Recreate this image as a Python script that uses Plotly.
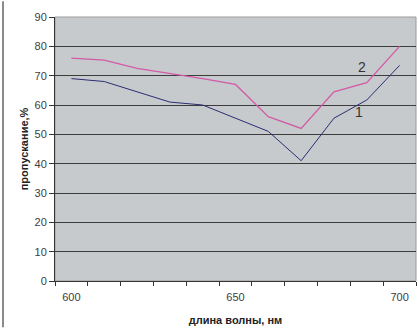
import plotly.graph_objects as go

wavelength = [600, 610, 620, 630, 640, 650, 660, 670, 680, 690, 700]
series_1 = [69, 68, 64.5, 61, 60, 55.5, 51, 41, 55.5, 61.7, 73.5]
series_2 = [76, 75.3, 72.5, 70.8, 69, 67, 56, 52, 64.5, 67.6, 80]
x_tick_vals = [600, 650, 700]
x_tick_text = ["600", "650", "700"]
y_tick_vals = [0, 10, 20, 30, 40, 50, 60, 70, 80, 90]

font_family = "Liberation Sans, Arial, sans-serif"

fig = go.Figure()
fig.add_trace(go.Scatter(x=wavelength, y=series_1, mode="lines",
                         line=dict(color="#2b2d72", width=1), showlegend=False))
fig.add_trace(go.Scatter(x=wavelength, y=series_2, mode="lines",
                         line=dict(color="#d25aa6", width=1.3), showlegend=False))

fig.add_annotation(x=688.5, y=73, text="2", showarrow=False,
                   font=dict(family=font_family, size=14, color="#333333"))
fig.add_annotation(x=687.5, y=57.5, text="1", showarrow=False,
                   font=dict(family=font_family, size=14, color="#333333"))

# plot-area border (top/right gray)
fig.add_shape(type="rect", xref="paper", yref="paper", x0=0, x1=1, y0=0, y1=1,
              line=dict(color="#9a9a9a", width=1), layer="below")
# outer chart frame on left side
fig.add_shape(type="line", xref="paper", yref="paper", x0=-0.144, x1=-0.144,
              y0=-0.175, y1=1.06, line=dict(color="#8a8a8a", width=2))

fig.update_layout(
    width=418, height=329,
    margin=dict(l=55, r=2, t=17, b=48, autoexpand=False),
    paper_bgcolor="white",
    plot_bgcolor="#c7cacd",
    font=dict(family=font_family, size=11, color="#404040"),
    xaxis=dict(
        range=[595, 705], automargin=False,
        tickmode="array", tickvals=x_tick_vals, ticktext=x_tick_text,
        ticks="", showgrid=False, zeroline=False,
        showline=True, linecolor="#333333", linewidth=1,
        minor=dict(tickmode="linear", tick0=595, dtick=10, ticks="outside",
                   ticklen=4, tickcolor="#333333", showgrid=False),
        ticklabelstandoff=6,
        tickfont=dict(size=11, color="#404040"),
        title=dict(text="<b>длина волны, нм</b>", font=dict(size=11, color="#222222"),
                   standoff=14),
    ),
    yaxis=dict(
        range=[0, 90], tickmode="array", tickvals=y_tick_vals, automargin=False,
        ticks="outside", ticklen=5, tickcolor="#333333",
        showgrid=True, gridcolor="#3c3c3c", gridwidth=1,
        zeroline=False, showline=True, linecolor="#333333", linewidth=1,
        tickfont=dict(size=11, color="#404040"),
        title=dict(text="<b>пропускание,%</b>", font=dict(size=11, color="#222222"),
                   standoff=3),
    ),
)

fig.write_html("out.html", config={"displayModeBar": False},
               post_script="document.body.style.margin='0';")
